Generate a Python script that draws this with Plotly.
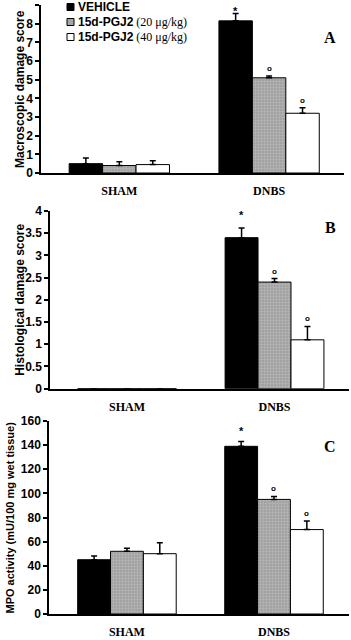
import plotly.graph_objects as go

categories = ["SHAM", "DNBS"]
series_names = ["VEHICLE", "15d-PGJ2 (20 μg/kg)", "15d-PGJ2 (40 μg/kg)"]

# Panel A: Macroscopic damage score
a_vals = [[0.5, 8.15], [0.4, 5.1], [0.45, 3.2]]
a_err = [[0.3, 0.4], [0.2, 0.1], [0.2, 0.3]]
# Panel B: Histological damage score
b_vals = [[0, 3.4], [0, 2.4], [0, 1.1]]
b_err = [[0, 0.22], [0, 0.08], [0, 0.3]]
# Panel C: MPO activity
c_vals = [[45, 139], [52, 95], [50, 70]]
c_err = [[3, 4], [2.5, 2.5], [9, 7]]

# significance marks above DNBS bars per series
sig_marks = ["*", "o", "o"]

panel_titles = ["Macroscopic damage score", "Histological damage score",
                "MPO activity (mU/100 mg wet tissue)"]
panel_letters = ["A", "B", "C"]

fills = ["#000000", "#a6a6a6", "#ffffff"]
BARGAP = 0.33
W = (1 - BARGAP) / 3
star_shift = [2, 13, 11]

fig = go.Figure()
panels = [(a_vals, a_err), (b_vals, b_err), (c_vals, c_err)]
for p, (vals, errs) in enumerate(panels):
    xa = "x" if p == 0 else f"x{p+1}"
    ya = "y" if p == 0 else f"y{p+1}"
    for s in range(3):
        marker = dict(color=fills[s], line=dict(color="black", width=1))
        if s == 1:
            marker["pattern"] = dict(shape="+", fgcolor="#cfcfcf", bgcolor="#a2a2a2",
                                     size=3, solidity=0.3)
        fig.add_trace(go.Bar(
            x=categories, y=vals[s], xaxis=xa, yaxis=ya, name=series_names[s],
            marker=marker, showlegend=False,
            error_y=dict(type="data", array=errs[s], arrayminus=[0, 0], symmetric=False,
                         color="black", thickness=1.5, width=3, visible=True),
        ))
        top = vals[s][1] + errs[s][1]
        if s == 0:
            fig.add_annotation(
                x=1 + (s - 1) * W, y=top, xref=xa, yref=ya, text=sig_marks[s],
                showarrow=False, yanchor="middle", yshift=star_shift[p],
                font=dict(family="Liberation Sans", size=11, color="black", weight="bold"),
            )
        else:
            fig.add_annotation(
                x=1 + (s - 1) * W, y=top, xref=xa, yref=ya, text=sig_marks[s],
                showarrow=False, yanchor="bottom", yshift=1,
                font=dict(family="Liberation Sans", size=8, color="black", weight="bold"),
            )

tickfont = dict(family="Liberation Sans", size=12, color="black", weight="bold")
catfont = dict(family="Liberation Serif", size=12, color="black", weight="bold")

xdomains = [[0.1168, 0.980], [0.1425, 0.9943], [0.1396, 0.9943]]
ydomains = [[0.7297, 0.9922], [0.3927, 0.6703], [0.0406, 0.3422]]
xranges = [[-0.523, 1.5], [-0.522, 1.505], [-0.53, 1.51]]
yranges = [[0, 9], [0, 4], [0, 160]]
dticks = [1, 0.5, 20]
title_sizes = [12, 12, 11]
title_x = [20, 20, 10]

layout = dict(
    width=351, height=640, margin=dict(l=0, r=0, t=0, b=0),
    paper_bgcolor="white", plot_bgcolor="white",
    barmode="group", bargap=BARGAP, bargroupgap=0,
    showlegend=False,
)
for p in range(3):
    sx = "xaxis" if p == 0 else f"xaxis{p+1}"
    sy = "yaxis" if p == 0 else f"yaxis{p+1}"
    ya = "y" if p == 0 else f"y{p+1}"
    xa = "x" if p == 0 else f"x{p+1}"
    layout[sx] = dict(domain=xdomains[p], anchor=ya, range=xranges[p], automargin=False,
                      type="category", showline=True, linecolor="black", linewidth=1.5,
                      ticks="", showgrid=False, tickfont=catfont, ticklabelstandoff=6,
                      zeroline=False)
    layout[sy] = dict(domain=ydomains[p], anchor=xa, range=yranges[p], dtick=dticks[p],
                      automargin=False,
                      showline=True, linecolor="black", linewidth=1.5,
                      ticks="outside", ticklen=4, tickwidth=1.5, tickcolor="black",
                      showgrid=False, zeroline=False, tickfont=tickfont)
fig.update_layout(**layout)

# y-axis titles (rotated)
for p in range(3):
    fig.add_annotation(x=title_x[p] / 351, xref="paper", y=sum(ydomains[p]) / 2, yref="paper",
                       text=panel_titles[p], textangle=-90, showarrow=False,
                       xanchor="center", yanchor="middle",
                       font=dict(family="Liberation Sans", size=title_sizes[p],
                                 color="black", weight="bold"))

# panel letters
letter_y = [1 - 27 / 640, 1 - 227 / 640, 1 - 457 / 640]
for p in range(3):
    fig.add_annotation(x=338 / 351, y=letter_y[p], xref="paper", yref="paper",
                       text=panel_letters[p], showarrow=False,
                       font=dict(family="Liberation Serif", size=16, color="black", weight="bold"))

# manual legend (in panel A)
legend_rows_y = [7, 22, 37]
legend_labels = [
    "VEHICLE",
    "15d-PGJ2<span style='font-family:Liberation Serif;font-weight:normal'> (20 μg/kg)</span>",
    "15d-PGJ2<span style='font-family:Liberation Serif;font-weight:normal'> (40 μg/kg)</span>",
]
for s in range(3):
    yc = legend_rows_y[s]
    fig.add_shape(type="rect", xref="paper", yref="paper",
                  x0=67 / 351, x1=74 / 351, y0=1 - (yc + 3.5) / 640, y1=1 - (yc - 3.5) / 640,
                  line=dict(color="black", width=1), fillcolor=fills[s])
    fig.add_annotation(x=76 / 351, y=1 - yc / 640, xref="paper", yref="paper",
                       xanchor="left", yanchor="middle", text=legend_labels[s], showarrow=False,
                       font=dict(family="Liberation Sans", size=12, color="black", weight="bold"))

fig.write_html("out.html", config={"displayModeBar": False},
               post_script="document.body.style.margin='0px';document.body.style.overflow='hidden';")
